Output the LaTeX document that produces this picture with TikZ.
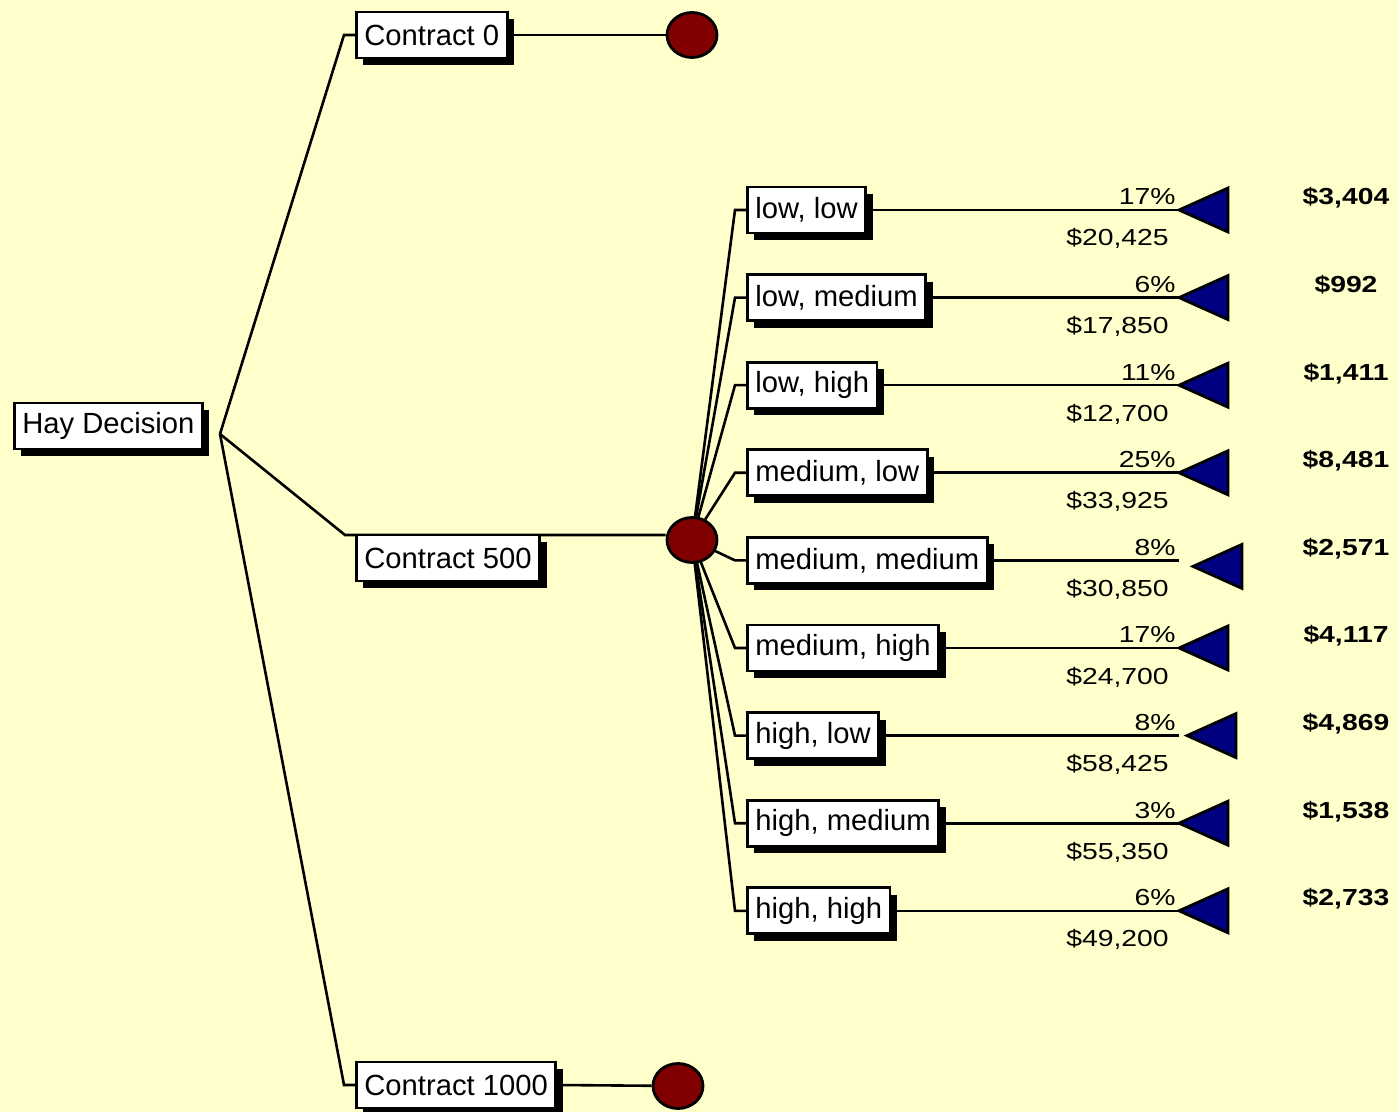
\documentclass[tikz,border=0pt]{standalone}
\usepackage{fontspec}
\setmainfont{Liberation Sans}
\newfontfamily\valfont[FakeStretch=1.22]{Liberation Sans}
\usetikzlibrary{shapes.geometric, shadows, backgrounds}
\definecolor{cback}{HTML}{FFFFCC}
\definecolor{cnode}{HTML}{800000}
\definecolor{cleaf}{HTML}{000080}
\tikzset{
  wire/.style={draw, line width=1.3pt},
  lbl/.style={draw, fill=white, line width=1.4pt, inner xsep=4pt, minimum height=23pt, anchor=west,
    font=\fontsize{14.6}{17}\selectfont,
    drop shadow={shadow xshift=3.5pt, shadow yshift=-3.5pt, fill=black, opacity=1}},
  chance/.style={ellipse, draw, fill=cnode, line width=1.4pt, minimum width=25pt, minimum height=22.5pt, inner sep=0pt},
  leaf/.style={draw, fill=cleaf, line width=1.4pt, line join=miter},
  prob/.style={font=\valfont\fontsize{11.6}{13}\selectfont, anchor=base east, inner sep=0pt},
  payoff/.style={font=\valfont\bfseries\fontsize{11.6}{13}\selectfont, anchor=base, inner sep=0pt},
}
\begin{document}
\begin{tikzpicture}[x=0.5pt, y=-0.5pt]
  \useasboundingbox (0,0) rectangle (1399,1112);
  \begin{scope}[on background layer]
    \fill[cback] (0,0) rectangle (1399,1112);
  \end{scope}
  % decision node and its three branches
  \node[lbl] (root) at (13,426) {Hay Decision};
  \coordinate (fork) at (220,434);
  \node[lbl] (c0) at (355,35) {Contract 0};
  \node[lbl] (c500) at (355,558) {Contract 500};
  \node[lbl] (c1000) at (355,1085) {Contract 1000};
  \node[chance] (ch0) at (692,35) {};
  \node[chance] (ch500) at (692,540) {};
  \node[chance] (ch1000) at (678,1086) {};
  \coordinate (j500) at (345,535);
  \begin{scope}[on background layer]
    \draw[wire] (fork) -- ([xshift=-5.5pt]c0.west) -- (c0.west);
    \draw[wire] (c0.east) -- (ch0);
    \draw[wire] (fork) -- (j500) -- (j500 -| ch500.west);
    \draw[wire] (fork) -- ([xshift=-5.5pt]c1000.west) -- (c1000.west);
    \draw[wire] (c1000.east) -- (ch1000);
  \end{scope}
  % outcomes of Contract 500
  \foreach \i/\lab/\p/\v/\ev/\dx/\dy [evaluate=\i as \y using 210+87.6*(\i-1)] in {
      1/{low, low}/17/{20,425}/{3,404}/0/0,
      2/{low, medium}/6/{17,850}/{992}/0/0,
      3/{low, high}/11/{12,700}/{1,411}/0/0,
      4/{medium, low}/25/{33,925}/{8,481}/0/0,
      5/{medium, medium}/8/{30,850}/{2,571}/14/6,
      6/{medium, high}/17/{24,700}/{4,117}/0/0,
      7/{high, low}/8/{58,425}/{4,869}/8/0,
      8/{high, medium}/3/{55,350}/{1,538}/0/0,
      9/{high, high}/6/{49,200}/{2,733}/0/0} {
    \node[lbl] (o\i) at (746,\y) {\lab};
    \coordinate (e\i) at (1179,\y);
    \coordinate (t\i) at (1179+\dx,\y+\dy);
    \begin{scope}[on background layer]
      \draw[wire] (ch500.center) -- ([xshift=-5.5pt]o\i.west) -- (o\i.west);
    \end{scope}
    \draw[wire] (o\i.east) -- (e\i);
    \draw[leaf] (t\i) -- ++(49,-22) -- ++(0,44) -- cycle;
    \node[prob] (p\i) at (1176,\y-5) {\p\%};
    \node[prob] (v\i) at (1169,\y+36) {\$\v};
    \node[payoff] (ev\i) at (1346,\y-5) {\$\ev};
  }
\end{tikzpicture}
\end{document}
